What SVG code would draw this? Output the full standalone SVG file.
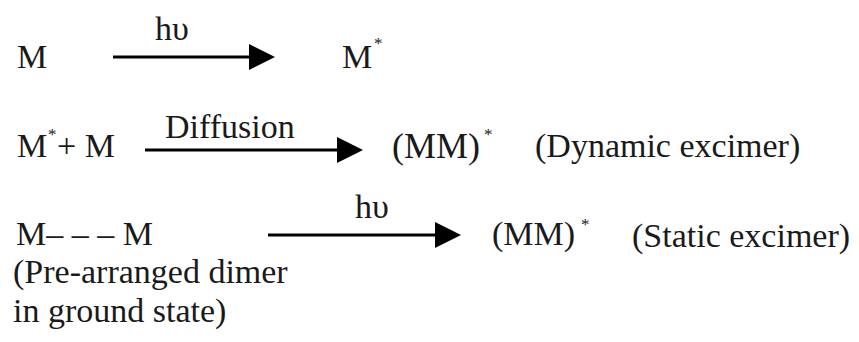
<svg xmlns="http://www.w3.org/2000/svg" width="859" height="342" viewBox="0 0 859 342">
  <defs>
    <style>
      .arr { stroke: #000; stroke-width: 3; fill: none; }
      .head { fill: #000; }
    </style>
  </defs>
  <rect width="859" height="342" fill="#fff"/>
  <g id="connectors">
    <g id="arrow1">
      <line class="arr" x1="113" y1="57" x2="252" y2="57"/>
      <polygon class="head" points="249,44 275,57 249,70"/>
    </g>
    <g id="arrow2">
      <line class="arr" x1="145" y1="150" x2="340" y2="150"/>
      <polygon class="head" points="337,137 363,150 337,163"/>
    </g>
    <g id="arrow3">
      <line class="arr" x1="268" y1="235" x2="438" y2="235"/>
      <polygon class="head" points="435,222 461,235 435,248"/>
    </g>
  </g>
  <g id="labels">
    <text id="label-hv1" x="155" y="40" fill="#1a1a1a" style="font-family: 'Liberation Serif', serif; font-size: 34px">h&#965;</text>
    <text id="label-diffusion" x="165" y="138" fill="#1a1a1a" style="font-family: 'Liberation Serif', serif; font-size: 34px">Diffusion</text>
    <text id="label-hv3" x="355" y="218" fill="#1a1a1a" style="font-family: 'Liberation Serif', serif; font-size: 34px">h&#965;</text>
  </g>
  <g id="node-M">
    <text x="17" y="68" fill="#1a1a1a" style="font-family: 'Liberation Serif', serif; font-size: 34px">M</text>
  </g>
  <g id="node-Mstar">
    <text x="342" y="68" fill="#1a1a1a" style="font-family: 'Liberation Serif', serif; font-size: 34px">M</text>
    <text x="374" y="49" fill="#1a1a1a" style="font-family: 'Liberation Serif', serif; font-size: 17px">*</text>
  </g>
  <g id="node-MstarPlusM">
    <text x="17" y="157" fill="#1a1a1a" style="font-family: 'Liberation Serif', serif; font-size: 34px">M</text>
    <text x="48" y="140" fill="#1a1a1a" style="font-family: 'Liberation Serif', serif; font-size: 17px">*</text>
    <text x="57" y="157" fill="#1a1a1a" style="font-family: 'Liberation Serif', serif; font-size: 34px">+ M</text>
  </g>
  <g id="node-MMstar-dynamic">
    <text x="392" y="158" fill="#1a1a1a" style="font-family: 'Liberation Serif', serif; font-size: 36px">(MM)</text>
    <text x="484" y="140" fill="#1a1a1a" style="font-family: 'Liberation Serif', serif; font-size: 17px">*</text>
    <text x="535" y="157" fill="#1a1a1a" style="font-family: 'Liberation Serif', serif; font-size: 34px">(Dynamic excimer)</text>
  </g>
  <g id="node-dimer">
    <text x="16" y="245" fill="#1a1a1a" style="font-family: 'Liberation Serif', serif; font-size: 34px">M&#8211; &#8211; &#8211; M</text>
    <text x="13" y="283" fill="#1a1a1a" style="font-family: 'Liberation Serif', serif; font-size: 34px">(Pre-arranged dimer</text>
    <text x="13" y="322" fill="#1a1a1a" style="font-family: 'Liberation Serif', serif; font-size: 34px">in ground state)</text>
  </g>
  <g id="node-MMstar-static">
    <text x="492" y="245" fill="#1a1a1a" style="font-family: 'Liberation Serif', serif; font-size: 34px">(MM)</text>
    <text x="581" y="230" fill="#1a1a1a" style="font-family: 'Liberation Serif', serif; font-size: 17px">*</text>
    <text x="632" y="247" fill="#1a1a1a" style="font-family: 'Liberation Serif', serif; font-size: 34px">(Static excimer)</text>
  </g>
</svg>
